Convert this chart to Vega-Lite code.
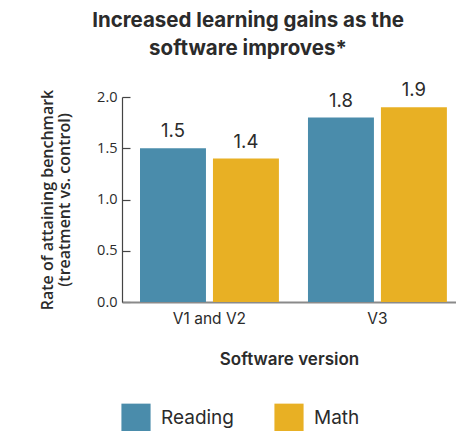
{
  "$schema": "https://vega.github.io/schema/vega-lite/v6.json",
  "width": 334,
  "height": 205,
  "autosize": "none",
  "padding": {"left": 122, "top": 97, "right": 0, "bottom": 129},
  "background": "white",
  "config": {"view": {"stroke": null}},
  "title": {
    "text": ["Increased learning gains as the", "software improves*"],
    "font": "Inter",
    "fontSize": 20.5,
    "fontWeight": "bold",
    "color": "#2b2b2b",
    "anchor": "middle",
    "dx": -41,
    "offset": 22,
    "lineHeight": 28
  },
  "data": {
    "values": [
      {"version": "V1 and V2", "subject": "Reading", "value": 1.5},
      {"version": "V1 and V2", "subject": "Math", "value": 1.4},
      {"version": "V3", "subject": "Reading", "value": 1.8},
      {"version": "V3", "subject": "Math", "value": 1.9}
    ]
  },
  "encoding": {
    "x": {
      "field": "version",
      "type": "nominal",
      "scale": {"paddingInner": 0.173, "paddingOuter": 0.0807, "align": 0.664},
      "axis": {
        "title": "Software version",
        "labelAngle": 0,
        "ticks": false,
        "domainColor": "#8a8a8a",
        "domainWidth": 2,
        "labelFont": "Inter",
        "labelFontSize": 15.5,
        "labelColor": "#2b2b2b",
        "labelPadding": 9,
        "titleFont": "Inter",
        "titleFontSize": 17,
        "titleFontWeight": 600,
        "titleColor": "#2b2b2b",
        "titlePadding": 25
      }
    },
    "xOffset": {"field": "subject", "type": "nominal", "sort": ["Reading", "Math"], "scale": {"paddingInner": 0.096}},
    "y": {
      "field": "value",
      "type": "quantitative",
      "scale": {"domain": [0, 2]},
      "axis": {
        "title": ["Rate of attaining benchmark", "(treatment vs. control)"],
        "values": [0, 0.5, 1, 1.5, 2],
        "format": ".1f",
        "grid": true,
        "gridColor": "#444444",
        "gridWidth": 1.2,
        "gridDash": [8, 1000],
        "gridOpacity": 1,
        "ticks": false,
        "domainColor": "#444444",
        "domainWidth": 1.2,
        "labelFont": "Open Sans",
        "labelFontSize": 14.5,
        "labelColor": "#2b2b2b",
        "labelPadding": 5,
        "titleFont": "Open Sans",
        "titleFontSize": 16,
        "titleFontWeight": 600,
        "titleColor": "#2b2b2b",
        "titlePadding": 24,
        "titleLineHeight": 17
      }
    }
  },
  "layer": [
    {
      "mark": {"type": "bar"},
      "encoding": {
        "color": {
          "field": "subject",
          "type": "nominal",
          "sort": ["Reading", "Math"],
          "scale": {"domain": ["Reading", "Math"], "range": ["#4a8cab", "#e8b024"]},
          "legend": {
            "title": null,
            "orient": "none",
            "direction": "horizontal",
            "legendX": -1,
            "legendY": 306,
            "symbolType": "square",
            "symbolSize": 850,
            "symbolStrokeWidth": 0,
            "labelFont": "Inter",
            "labelFontSize": 19,
            "labelColor": "#2b2b2b",
            "labelOffset": 10,
            "columnPadding": 40
          }
        }
      }
    },
    {
      "mark": {"type": "text", "baseline": "bottom", "dy": -7, "font": "Inter", "fontSize": 18.5, "color": "#2b2b2b"},
      "encoding": {
        "text": {"field": "value", "type": "quantitative", "format": ".1f"}
      }
    }
  ]
}
